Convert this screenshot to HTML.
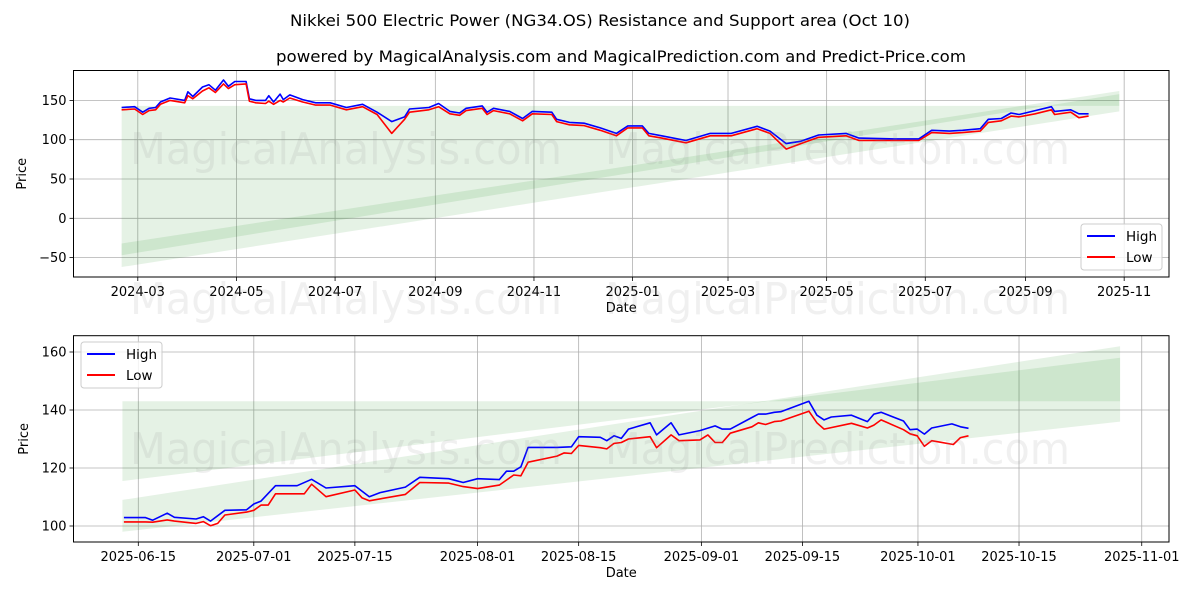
<!DOCTYPE html>
<html><head><meta charset="utf-8"><style>
html,body{margin:0;padding:0;background:#fff;}
svg{display:block;font-family:"DejaVu Sans","Liberation Sans",sans-serif;}
</style></head><body>
<svg id="fig" width="1200" height="600" viewBox="0 0 1200 600" xmlns="http://www.w3.org/2000/svg">
<rect x="0" y="0" width="1200" height="600" fill="#fff"/>
<text x="600" y="26" text-anchor="middle" font-size="16" textLength="620" lengthAdjust="spacingAndGlyphs">Nikkei 500 Electric Power (NG34.OS) Resistance and Support area (Oct 10)</text>
<text x="621" y="62" text-anchor="middle" font-size="16" textLength="690" lengthAdjust="spacingAndGlyphs">powered by MagicalAnalysis.com and MagicalPrediction.com and Predict-Price.com</text>
<g id="top"></g>
<g id="bot"></g>
<g fill="#888" fill-opacity="0.13" font-size="44">
<text x="130" y="164" textLength="432" lengthAdjust="spacingAndGlyphs">MagicalAnalysis.com</text>
<text x="605" y="164" textLength="465" lengthAdjust="spacingAndGlyphs">MagicalPrediction.com</text>
<text x="130" y="314" textLength="432" lengthAdjust="spacingAndGlyphs">MagicalAnalysis.com</text>
<text x="605" y="314" textLength="465" lengthAdjust="spacingAndGlyphs">MagicalPrediction.com</text>
<text x="130" y="464" textLength="432" lengthAdjust="spacingAndGlyphs">MagicalAnalysis.com</text>
<text x="605" y="464" textLength="465" lengthAdjust="spacingAndGlyphs">MagicalPrediction.com</text>
</g>
</svg>
<script>
// ---- Top chart data (days from 2024-03-01) ----
const topDays = [-10,-2,3,7,11,14,20,29,31,34,40,44,48,53,56,60,67,69,73,79,81,84,88,90,94,102,110,119,129,139,148,157,165,168,180,186,193,199,203,213,216,220,230,238,244,256,259,267,276,286,296,303,312,316,324,339,354,367,383,391,401,410,421,438,446,468,483,491,502,510,521,526,534,540,545,555,565,567,577,582,588];
const topHigh = [141,142,135,140,141,148,153,150,161,155,167,170,163,176,168,174,174,152,150,150,156,148,158,151,157,151,147,147,141,145,135,123,129,139,141,146,136,134,140,143,135,140,136,127,136,135,126,122,121,115,108,117.5,117.5,108,105,99,108,108,117,111,95,98,106,108,102,101,101,112,111,112,114,126,127,134,132,137,142,136,138,133,133];
const topLow  = [138,139,132,137,138,145,150,147,156,152,162,166,160,171,165,170,171,149,147,146,149,145,150,148,153,148,144,144,138,142,132,108,126,135,138,142,133,131,137,140,132,137,133,124,133,132,123,119,118,112,105,115,115,105,102,96,105,105,114,108,88,95,103,105,99,99,99,109,108,109,111,122,124,130,129,133,138,132,135,128,130];
const topBand1Top = [143,143];
const topBand1Bot = [-47,158];
const topBand2Top = [-32,162];
const topBand2Bot = [-62,136];
const topBandDays = [-10,607];
const topYTicks = [150,100,50,0,-50];
const topXTickDays = [0,61,122,184,245,306,365,426,487,549,610];
const topXTickLabels = ["2024-03","2024-05","2024-07","2024-09","2024-11","2025-01","2025-03","2025-05","2025-07","2025-09","2025-11"];

// ---- Bottom chart data (days from 2025-06-15) ----
const botHighDays = [-2,1,2,4,5,8,9,10,12,15,16,17,19,22,24,26,30,32,33.5,37,39,43,45,47,50,51,52,53,54,58,60,61,64,64.9,65.9,66.9,67.9,70.9,71.8,73.8,74.9,77.8,79.9,80.9,82,85,85.9,86.9,88.1,89,92.9,94,95,96,98.8,101,101.9,102.9,106,106.9,107.9,108.9,109.9,112.7,113.9,115];
const botHigh = [102.9,102.9,102,104.4,103,102.4,103.2,101.7,105.4,105.6,107.6,108.6,113.9,113.9,116.1,113.1,113.9,110.1,111.5,113.4,116.8,116.3,115,116.3,116,118.9,118.9,120.4,127.1,127.1,127.3,130.8,130.6,129.4,131.1,130.2,133.4,135.6,131.4,135.6,131.4,132.9,134.5,133.4,133.4,137.4,138.6,138.6,139.2,139.4,143,138.2,136.6,137.6,138.2,136,138.6,139.2,136.2,133.2,133.4,131.7,133.8,135.2,134.2,133.7];
const botLowDays = [-2,1,2,4,5,8,9,10,11,12,15,16,17,18,19,23,24,26,30,31,32,37,39,43,45,47,50,52,53,54,58,59,60,61,64,64.9,65.9,66.9,67.9,70.9,71.8,73.8,74.9,77.8,78.9,79.9,80.9,82,85,85.9,86.9,88.1,89,92.9,94,95,98.8,101,101.9,102.9,106,106.9,107.9,108.9,109.9,112.9,113.9,115];
const botLow = [101.4,101.4,101.3,102.1,101.7,100.9,101.5,100.1,100.9,103.8,104.8,105.4,107.2,107.2,111.1,111.1,114.4,110.1,112.4,109.7,108.7,110.9,115,114.8,113.6,112.9,114.1,117.6,117.3,122,124.1,125.2,125,127.8,127.0,126.6,128.5,128.8,130,130.8,127.0,131.4,129.4,129.7,131.4,128.8,128.8,132,134.2,135.6,135,136,136.2,139.6,135.6,133.4,135.4,133.8,134.8,136.6,133.2,131.8,131.1,127.5,129.4,128.1,130.5,131.1];
const botBand1Top = [143,143];
const botBand1Bot = [115.5,158];
const botBand2Top = [109,162];
const botBand2Bot = [98,136];
const botBandDays = [-2.2,136];
const botYTicks = [160,140,120,100];
const botXTickDays = [0,16,30,47,61,78,92,108,122,139];
const botXTickLabels = ["2025-06-15","2025-07-01","2025-07-15","2025-08-01","2025-08-15","2025-09-01","2025-09-15","2025-10-01","2025-10-15","2025-11-01"];

const NS = "http://www.w3.org/2000/svg";
function mk(parent, tag, attrs){
  const e = document.createElementNS(NS, tag);
  for (const k in attrs) e.setAttribute(k, attrs[k]);
  parent.appendChild(e);
  return e;
}

function drawChart(g, cfg){
  const L = 73.5, R = 1169;
  const T = cfg.top, B = cfg.bottom;
  const xs = d => cfg.x0 + d * cfg.xk;
  const ys = v => cfg.y0 - (v - cfg.v0) * cfg.yk;

  cfg.yTicks.forEach(v => {
    const gl = mk(g, "line", {x1:L, x2:R, y1:ys(v), y2:ys(v), stroke:"#b0b0b0", "stroke-width":0.8});
    
    
    const tk = mk(g, "line", {x1:L-4, x2:L, y1:ys(v), y2:ys(v), stroke:"#000", "stroke-width":0.8});
    
    
    const t = mk(g, "text", {x:L-7, y:ys(v)+4.5, "text-anchor":"end", "font-size":"13"});
    t.textContent = v < 0 ? "\u2212" + Math.abs(v) : String(v);
    
    
  });
  cfg.xTickDays.forEach((d, i) => {
    const gl = mk(g, "line", {x1:xs(d), x2:xs(d), y1:T, y2:B, stroke:"#b0b0b0", "stroke-width":0.8});
    
    
    const tk = mk(g, "line", {x1:xs(d), x2:xs(d), y1:B, y2:B+4, stroke:"#000", "stroke-width":0.8});
    
    
    const t = mk(g, "text", {x:xs(d), y:B+19, "text-anchor":"middle", "font-size":"13"});
    t.textContent = cfg.xTickLabels[i];
    
    
  });

  const bands = [[cfg.b1t, cfg.b1b, 'resistance-band'], [cfg.b2t, cfg.b2b, 'support-band']];
  bands.forEach(b => {
    const d0 = cfg.bandDays[0], d1 = cfg.bandDays[1];
    const pts = [[xs(d0), ys(b[0][0])], [xs(d1), ys(b[0][1])], [xs(d1), ys(b[1][1])], [xs(d0), ys(b[1][0])]];
    const p = mk(g, "polygon", {points: pts.map(q => q.join(",")).join(" "), fill:"#008000", "fill-opacity":"0.1"});
    
    
  });

  const hp = cfg.highDays.map((d, i) => xs(d).toFixed(1) + "," + ys(cfg.high[i]).toFixed(1)).join(" ");
  const lp = cfg.lowDays.map((d, i) => xs(d).toFixed(1) + "," + ys(cfg.low[i]).toFixed(1)).join(" ");
  const hl = mk(g, "polyline", {points:hp, fill:"none", stroke:"#0000ff", "stroke-width":1.6, "stroke-linejoin":"round"});
  
  
  const ll = mk(g, "polyline", {points:lp, fill:"none", stroke:"#ff0000", "stroke-width":1.6, "stroke-linejoin":"round"});
  
  

  const fr = mk(g, "rect", {x:L, y:T, width:R-L, height:B-T, fill:"none", stroke:"#000", "stroke-width":1});
  
  

  const xl = mk(g, "text", {x:(L+R)/2, y:B+35, "text-anchor":"middle", "font-size":"13"});
  xl.textContent = "Date";
  
  
  const yl = mk(g, "text", {x:0, y:0, "text-anchor":"middle", "font-size":"13", transform:"translate(" + cfg.ylabX + "," + ((T+B)/2) + ") rotate(-90)"});
  yl.textContent = "Price";
  
  

  const lg = mk(g, "g", {});
  
  
  const lx = cfg.legX, ly = cfg.legY;
  mk(lg, "rect", {x:lx, y:ly, width:81, height:46, rx:3, fill:"#fff", "fill-opacity":0.8, stroke:"#ccc", "stroke-width":1});
  const e1 = mk(lg, "line", {x1:lx+6, x2:lx+34, y1:ly+12, y2:ly+12, stroke:"#0000ff", "stroke-width":2});
  
  
  const t1 = mk(lg, "text", {x:lx+45, y:ly+17, "font-size":"13.5"});
  t1.textContent = "High";
  
  
  const e2 = mk(lg, "line", {x1:lx+6, x2:lx+34, y1:ly+33, y2:ly+33, stroke:"#ff0000", "stroke-width":2});
  
  
  const t2 = mk(lg, "text", {x:lx+45, y:ly+38, "font-size":"13.5"});
  t2.textContent = "Low";
  
  
}

drawChart(document.getElementById("top"), {
  top:70.5, bottom:277, x0:137.8, xk:1.617, y0:218.3, v0:0, yk:0.786,
  yTicks:topYTicks, xTickDays:topXTickDays, xTickLabels:topXTickLabels,
  b1t:topBand1Top, b1b:topBand1Bot, b2t:topBand2Top, b2b:topBand2Bot, bandDays:topBandDays,
  highDays:topDays, high:topHigh, lowDays:topDays, low:topLow,
  ylabX:26, legX:1081, legY:224
});
drawChart(document.getElementById("bot"), {
  top:335.7, bottom:542, x0:138.3, xk:7.219, y0:526, v0:100, yk:2.9,
  yTicks:botYTicks, xTickDays:botXTickDays, xTickLabels:botXTickLabels,
  b1t:botBand1Top, b1b:botBand1Bot, b2t:botBand2Top, b2b:botBand2Bot, bandDays:botBandDays,
  highDays:botHighDays, high:botHigh, lowDays:botLowDays, low:botLow,
  ylabX:28, legX:81, legY:342
});
</script>
</body></html>
